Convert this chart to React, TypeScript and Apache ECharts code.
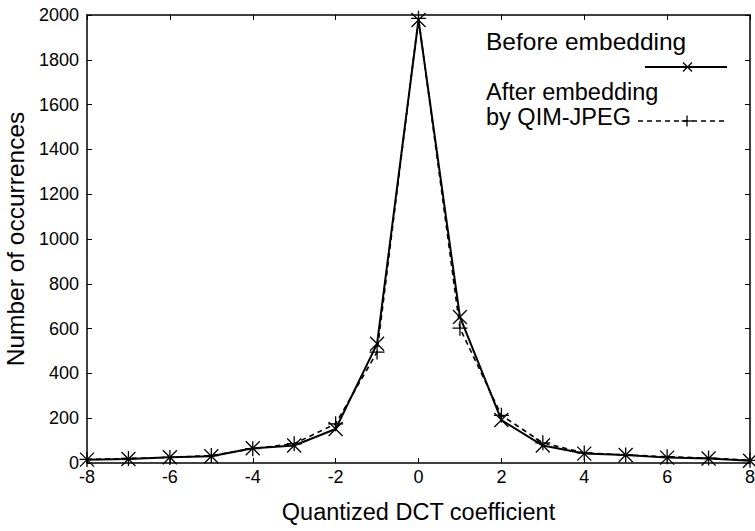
import React, { useEffect, useRef } from "react";
import * as echarts from "echarts";

const coefficients = [-8, -7, -6, -5, -4, -3, -2, -1, 0, 1, 2, 3, 4, 5, 6, 7, 8];
const beforeValues = [15, 18, 26, 30, 66, 78, 152, 532, 1978, 652, 192, 78, 42, 36, 24, 20, 10];
const afterValues = [16, 20, 25, 33, 64, 86, 175, 495, 1985, 602, 213, 90, 45, 36, 28, 22, 12];

const xLabel = "Quantized DCT coefficient";
const yLabel = "Number of occurrences";
const legendBefore = "Before embedding";
const legendAfter1 = "After embedding";
const legendAfter2 = "by QIM-JPEG";

const FONT = "'Liberation Sans', Arial, sans-serif";
const X_SYMBOL = "path://M0,0L10,10M10,0L0,10";
const PLUS_SYMBOL = "path://M5,0L5,10M0,5L10,5";

export default function App() {
  const ref = useRef<HTMLDivElement>(null);
  useEffect(() => {
    if (!ref.current) return;
    const chart = echarts.init(ref.current, null, { renderer: "svg" });
    const axisCommon = {
      axisLine: { show: true, onZero: false, lineStyle: { color: "#000", width: 1.5 } },
      axisTick: { show: true, inside: true, length: 5, lineStyle: { color: "#000", width: 1 } },
      splitLine: { show: false },
    };
    chart.setOption({
      animation: false,
      backgroundColor: "#fff",
      grid: { left: 87, right: 5, top: 15, bottom: 68, containLabel: false, outerBoundsMode: "none" },
      xAxis: [
        {
          type: "value",
          min: -8,
          max: 8,
          interval: 2,
          position: "bottom",
          ...axisCommon,
          axisLabel: { color: "#000", fontSize: 18, fontFamily: FONT, margin: 5 },
          name: xLabel,
          nameLocation: "middle",
          nameGap: 37,
          nameTextStyle: { color: "#000", fontSize: 23.5, fontFamily: FONT },
        },
        {
          type: "value",
          min: -8,
          max: 8,
          interval: 2,
          position: "top",
          ...axisCommon,
          axisLabel: { show: false },
        },
      ],
      yAxis: [
        {
          type: "value",
          min: 0,
          max: 2000,
          interval: 200,
          position: "left",
          ...axisCommon,
          axisLabel: {
            color: "#000",
            fontSize: 18,
            fontFamily: FONT,
            margin: 8,
            formatter: (v: number) => String(v),
          },
          name: yLabel,
          nameLocation: "middle",
          nameGap: 51,
          nameTextStyle: { color: "#000", fontSize: 24.5, fontFamily: FONT },
        },
        {
          type: "value",
          min: 0,
          max: 2000,
          interval: 200,
          position: "right",
          ...axisCommon,
          axisLabel: { show: false },
        },
      ],
      series: [
        {
          name: "After embedding by QIM-JPEG",
          type: "line",
          data: coefficients.map((c, i) => [c, afterValues[i]]),
          symbol: PLUS_SYMBOL,
          symbolSize: 15,
          showAllSymbol: true,
          lineStyle: { color: "#000", width: 1.6, type: [5, 4] },
          itemStyle: { color: "#000", borderColor: "#000", borderWidth: 1.3 },
          z: 2,
        },
        {
          name: legendBefore,
          type: "line",
          data: coefficients.map((c, i) => [c, beforeValues[i]]),
          symbol: X_SYMBOL,
          symbolSize: 14,
          showAllSymbol: true,
          lineStyle: { color: "#000", width: 2 },
          itemStyle: { color: "#000", borderColor: "#000", borderWidth: 1.3 },
          z: 3,
        },
      ],
      graphic: [
        {
          type: "text",
          x: 486,
          y: 41,
          style: { text: legendBefore, fill: "#000", font: `24.5px ${FONT}`, verticalAlign: "middle" },
        },
        {
          type: "line",
          shape: { x1: 645, y1: 67, x2: 727, y2: 67 },
          style: { stroke: "#000", lineWidth: 2 },
        },
        {
          type: "line",
          shape: { x1: 683, y1: 62.5, x2: 692, y2: 71.5 },
          style: { stroke: "#000", lineWidth: 1.3 },
        },
        {
          type: "line",
          shape: { x1: 692, y1: 62.5, x2: 683, y2: 71.5 },
          style: { stroke: "#000", lineWidth: 1.3 },
        },
        {
          type: "text",
          x: 486,
          y: 92,
          style: { text: legendAfter1, fill: "#000", font: `23.5px ${FONT}`, verticalAlign: "middle" },
        },
        {
          type: "text",
          x: 486,
          y: 117,
          style: { text: legendAfter2, fill: "#000", font: `23.5px ${FONT}`, verticalAlign: "middle" },
        },
        {
          type: "line",
          shape: { x1: 638, y1: 121, x2: 726, y2: 121 },
          style: { stroke: "#000", lineWidth: 1.6, lineDash: [5, 4] },
        },
        {
          type: "line",
          shape: { x1: 687, y1: 115.5, x2: 687, y2: 126.5 },
          style: { stroke: "#000", lineWidth: 1.3 },
        },
        {
          type: "line",
          shape: { x1: 681.5, y1: 121, x2: 692.5, y2: 121 },
          style: { stroke: "#000", lineWidth: 1.3 },
        },
      ],
    });
    return () => chart.dispose();
  }, []);
  return <div ref={ref} style={{ width: 755, height: 531, position: "absolute", left: 0, top: 0 }} />;
}
